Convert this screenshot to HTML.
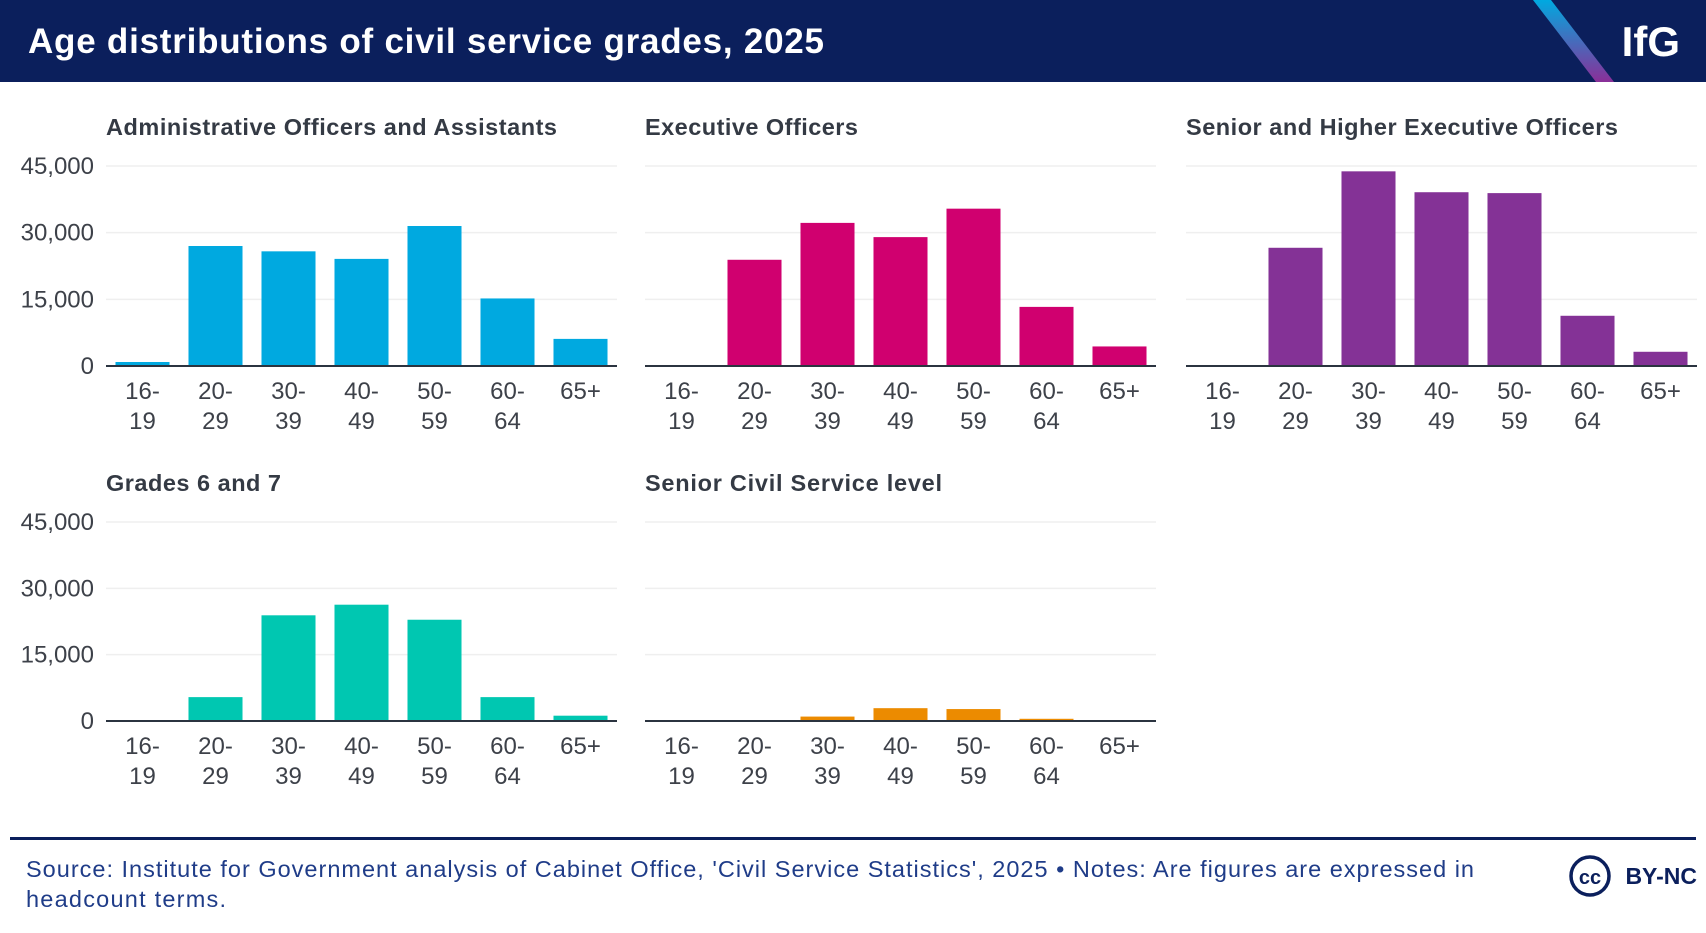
<!DOCTYPE html>
<html><head><meta charset="utf-8">
<style>
html,body{margin:0;padding:0;background:#fff;}
body{width:1706px;height:928px;overflow:hidden;font-family:"Liberation Sans",sans-serif;}
</style></head>
<body>
<svg id="chart" width="1706" height="928" xmlns="http://www.w3.org/2000/svg">
  <rect x="0" y="0" width="1706" height="82" fill="#0b1f5c"/>
  <defs><linearGradient id="g" x1="0" y1="0" x2="0" y2="1"><stop offset="0" stop-color="#00a9e0"/><stop offset="1" stop-color="#8a2f98"/></linearGradient></defs>
  <polygon points="1533,0 1551,0 1614,82 1596,82" fill="url(#g)"/>
  <text x="28" y="53" fill="#fff" font-size="35" font-weight="bold" textLength="796" lengthAdjust="spacing">Age distributions of civil service grades, 2025</text>
  <text x="1680" y="56" fill="#fff" font-size="42" font-weight="bold" text-anchor="end">IfG</text>
  <g id="panels"></g>
  <rect x="10" y="837" width="1686" height="3" fill="#0b1f5c"/>
  <text x="26" y="877" fill="#1f3c88" font-size="23.5" textLength="1448" lengthAdjust="spacing">Source: Institute for Government analysis of Cabinet Office, 'Civil Service Statistics', 2025 • Notes: Are figures are expressed in</text>
  <text x="26" y="907" fill="#1f3c88" font-size="23.5" textLength="200" lengthAdjust="spacing">headcount terms.</text>
  <circle cx="1590" cy="876" r="19" fill="none" stroke="#0b1f5c" stroke-width="3.5"/>
  <text x="1590" y="884" fill="#0b1f5c" font-size="20" font-weight="bold" text-anchor="middle">cc</text>
  <text x="1697" y="884" fill="#0b1f5c" font-size="23" font-weight="bold" text-anchor="end">BY-NC</text>
</svg>
<script>
const categories = ["16-|19","20-|29","30-|39","40-|49","50-|59","60-|64","65+"];
const yTicks = [0,15000,30000,45000];
const yTickLabels = ["0","15,000","30,000","45,000"];
const titles = ["Administrative Officers and Assistants","Executive Officers","Senior and Higher Executive Officers","Grades 6 and 7","Senior Civil Service level"];
const titleWidths = [451,213,432,175,297];
const colors = ["#00a9e0","#d0006f","#843296","#00c7b1","#ec8b00"];
const adminValues = [900,27000,25800,24100,31500,15200,6100];
const eoValues = [0,23900,32200,29000,35400,13300,4400];
const sheoValues = [0,26600,43800,39100,38900,11300,3200];
const g67Values = [0,5400,23900,26300,22900,5400,1200];
const scsValues = [0,100,1000,2900,2700,500,0];
const allValues = [adminValues,eoValues,sheoValues,g67Values,scsValues];

const NS="http://www.w3.org/2000/svg";
const root=document.getElementById('panels');
const cols=[106,645,1186], W=511;
const rows=[{t:127,top:166,base:366},{t:483,top:522,base:721}];
function mk(tag,attrs,parent){const e=document.createElementNS(NS,tag);for(const k in attrs)e.setAttribute(k,attrs[k]);parent.appendChild(e);return e;}
allValues.forEach((vals,i)=>{
  const x0=cols[i%3], r=rows[Math.floor(i/3)];
  const g=mk('g',{},root);
  
  
  const yScale=v=>r.base-(v/45000)*(r.base-r.top);
  const band=W/categories.length, bw=band*0.74;
  const t=mk('text',{x:x0,y:r.t+8,'font-size':23.5,'font-weight':'bold',fill:'#343a44',textLength:titleWidths[i],lengthAdjust:'spacing'},g);
  t.textContent=titles[i];
  
  
  yTicks.forEach((v,k)=>{
    if(v>0){const l=mk('line',{x1:x0,x2:x0+W,y1:yScale(v),y2:yScale(v),stroke:'#efefef','stroke-width':1.5},g);
    
    }
    if(i%3===0){const tx=mk('text',{x:x0-12,y:yScale(v)+8,'font-size':24,fill:'#3d4149','text-anchor':'end'},g);
    tx.textContent=yTickLabels[k];
    
    }
  });
  vals.forEach((v,k)=>{
    const bx=x0+band*k+(band-bw)/2;
    const b=mk('rect',{x:bx,y:yScale(v),width:bw,height:r.base-yScale(v),fill:colors[i]},g);
    
    
    const parts=categories[k].split('|');
    parts.forEach((p,j)=>{
      const tx=mk('text',{x:x0+band*k+band/2,y:r.base+33+j*30,'font-size':24,fill:'#3d4149','text-anchor':'middle'},g);
      tx.textContent=p;
      
      
    });
  });
  const ax=mk('line',{x1:x0,x2:x0+W,y1:r.base,y2:r.base,stroke:'#2b3440','stroke-width':2},g);
  
  
});
</script>
</body></html>
